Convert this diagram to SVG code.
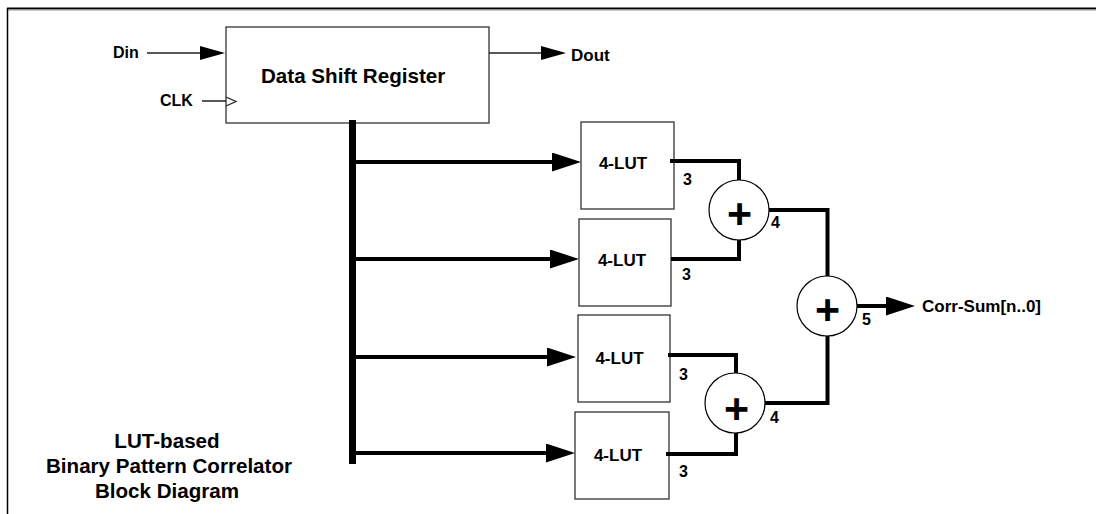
<svg xmlns="http://www.w3.org/2000/svg" width="1096" height="514" viewBox="0 0 1096 514">
<defs>
<style>
text{font-family:"Liberation Sans",Arial,sans-serif;font-weight:bold;fill:#000}
.box{fill:#fff;stroke:#333;stroke-width:1.3}
.thin{fill:none;stroke:#222;stroke-width:1.3}
.thick{fill:none;stroke:#000;stroke-width:4}
.sum{fill:#fff;stroke:#000;stroke-width:1.2}
.lbl{font-size:16px}
.lut{font-size:17px;text-anchor:middle}
.plus{font-size:43px;text-anchor:middle}
</style>
<marker id="ah-big" markerUnits="userSpaceOnUse" markerWidth="29" markerHeight="19" refX="2" refY="9.5" orient="auto">
<path d="M0,0 L29,9.5 L0,19 z" fill="#000"/>
</marker>
<marker id="ah-small" markerUnits="userSpaceOnUse" markerWidth="25" markerHeight="14" refX="1" refY="7" orient="auto">
<path d="M0,0 L25,7 L0,14 z" fill="#000"/>
</marker>
</defs>
<rect width="1096" height="514" fill="#fff"/>
<g id="frame">
<line x1="7" y1="8.5" x2="1096" y2="8.5" stroke="#000" stroke-width="2"/>
<line x1="7" y1="10" x2="1096" y2="10" stroke="#999" stroke-width="1"/>
<line x1="7.5" y1="8" x2="7.5" y2="514" stroke="#000" stroke-width="1.5"/>
</g>
<g id="din"><text class="lbl" x="113" y="58">Din</text></g>
<g id="clk"><text class="lbl" x="160" y="106">CLK</text></g>
<g id="dout"><text x="571" y="61" style="font-size:17px">Dout</text></g>
<g id="shift-register">
<rect class="box" x="226" y="27" width="263" height="96"/>
<text x="261" y="82.5" style="font-size:20.6px">Data Shift Register</text>
</g>
<g id="lut1">
<rect class="box" x="581" y="122" width="93" height="87"/>
<text class="lut" x="623" y="169">4-LUT</text>
</g>
<g id="lut2">
<rect class="box" x="579" y="219" width="92" height="87"/>
<text class="lut" x="622" y="266">4-LUT</text>
</g>
<g id="lut3">
<rect class="box" x="578" y="315" width="92" height="87"/>
<text class="lut" x="619.5" y="364">4-LUT</text>
</g>
<g id="lut4">
<rect class="box" x="575" y="412" width="94" height="87"/>
<text class="lut" x="618" y="461">4-LUT</text>
</g>
<g id="connectors">
<path class="thin" d="M147,53 H201" marker-end="url(#ah-small)"/>
<path class="thin" d="M202,101 H226 M226,97 L236,101.5 L226,106"/>
<path class="thin" d="M489,53 H542" marker-end="url(#ah-small)"/>
<rect x="349" y="120" width="7" height="344" fill="#000"/>
<path class="thick" d="M355,162 H554" marker-end="url(#ah-big)"/>
<path class="thick" d="M355,259 H552" marker-end="url(#ah-big)"/>
<path class="thick" d="M355,357 H549" marker-end="url(#ah-big)"/>
<path class="thick" d="M355,453 H548" marker-end="url(#ah-big)"/>
<path class="thick" d="M670,161 H739 V180"/>
<path class="thick" d="M671,259 H739 V240"/>
<path class="thick" d="M668,355 H736 V373"/>
<path class="thick" d="M666,454 H736 V433"/>
<path class="thick" d="M769,210 H827.5 V276"/>
<path class="thick" d="M765,403 H827.5 V336"/>
<path class="thick" d="M857,306 H888" marker-end="url(#ah-big)"/>
</g>
<g id="adder1">
<circle class="sum" cx="739" cy="210" r="30"/>
<text class="plus" x="739.5" y="227.5">+</text>
</g>
<g id="adder2">
<circle class="sum" cx="827" cy="306" r="30"/>
<text class="plus" x="827.5" y="323.5">+</text>
</g>
<g id="adder3">
<circle class="sum" cx="735" cy="403" r="30"/>
<text class="plus" x="736.5" y="422.5">+</text>
</g>
<g id="labels">
<text class="lbl" x="683" y="185">3</text>
<text class="lbl" x="682" y="280">3</text>
<text class="lbl" x="771" y="228">4</text>
<text class="lbl" x="862" y="325">5</text>
<text class="lbl" x="679" y="380">3</text>
<text class="lbl" x="679" y="477">3</text>
<text class="lbl" x="770" y="423">4</text>
</g>
<g id="corr-sum"><text x="922" y="312" style="font-size:17px">Corr-Sum[n..0]</text></g>
<g id="title" style="font-size:20.6px;text-anchor:middle">
<text x="167" y="448">LUT-based</text>
<text x="169" y="473">Binary Pattern Correlator</text>
<text x="167" y="498">Block Diagram</text>
</g>
</svg>
